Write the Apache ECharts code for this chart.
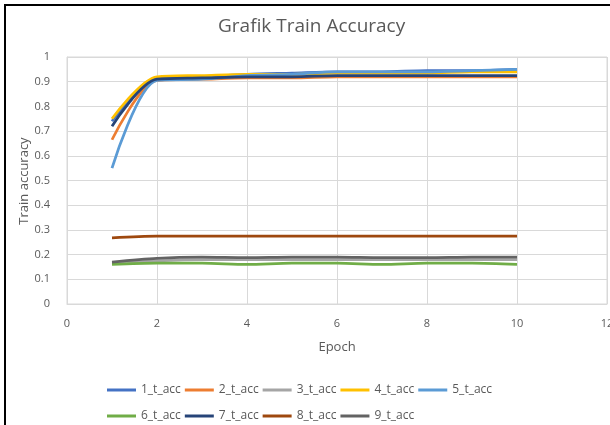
<!DOCTYPE html>
<html>
<head>
<meta charset="utf-8">
<script src="https://cdn.jsdelivr.net/npm/echarts@6/dist/echarts.min.js"></script>
<style>
  html, body { margin: 0; padding: 0; background: #fff; }
  #chart { width: 610px; height: 425px; }
</style>
</head>
<body>
<div id="chart"></div>
<script>
const epochs = [1, 2, 3, 4, 5, 6, 7, 8, 9, 10]
const seriesNames = ['1_t_acc', '2_t_acc', '3_t_acc', '4_t_acc', '5_t_acc', '6_t_acc', '7_t_acc', '8_t_acc', '9_t_acc']
const colors = ['#4472C4', '#ED7D31', '#A5A5A5', '#FFC000', '#5B9BD5', '#70AD47', '#264478', '#9E480E', '#636363']

const acc1 = [0.74, 0.915, 0.92, 0.93, 0.935, 0.94, 0.94, 0.945, 0.945, 0.95]
const acc2 = [0.665, 0.905, 0.91, 0.915, 0.915, 0.92, 0.92, 0.92, 0.92, 0.92]
const acc3 = [0.165, 0.175, 0.18, 0.18, 0.18, 0.18, 0.18, 0.18, 0.18, 0.18]
const acc4 = [0.75, 0.92, 0.925, 0.93, 0.93, 0.935, 0.935, 0.935, 0.94, 0.94]
const acc5 = [0.55, 0.905, 0.91, 0.925, 0.93, 0.94, 0.94, 0.94, 0.945, 0.95]
const acc6 = [0.16, 0.165, 0.165, 0.16, 0.165, 0.165, 0.16, 0.165, 0.165, 0.16]
const acc7 = [0.72, 0.91, 0.915, 0.92, 0.92, 0.925, 0.925, 0.925, 0.925, 0.925]
const acc8 = [0.268, 0.275, 0.275, 0.275, 0.275, 0.275, 0.275, 0.275, 0.275, 0.275]
const acc9 = [0.17, 0.185, 0.19, 0.188, 0.19, 0.19, 0.188, 0.188, 0.19, 0.19]

const allAcc = [acc1, acc2, acc3, acc4, acc5, acc6, acc7, acc8, acc9]

const labelColor = '#595959'
const gridColor = '#d9d9d9'

const series = allAcc.map(function (vals, i) {
    return {
        name: seriesNames[i],
        type: 'line',
        smooth: 0.3,
        symbol: 'none',
        data: epochs.map(function (e, j) { return [e, vals[j]] }),
        lineStyle: { color: colors[i], width: 2.75 },
        itemStyle: { color: colors[i] }
    }
})

function legendFor(names, top) {
    return {
        data: names,
        left: 107,
        top: top,
        orient: 'horizontal',
        icon: 'rect',
        itemWidth: 29,
        itemHeight: 3,
        itemGap: 4,
        padding: 0,
        textStyle: {
            color: labelColor, fontSize: 12, fontFamily: 'Open Sans',
            width: 46, overflow: 'truncate'
        }
    }
}

const chart = echarts.init(document.getElementById('chart'))
chart.setOption({
    animation: false,
    color: colors,
    title: {
        text: 'Grafik Train Accuracy',
        left: 213,
        top: 12,
        textStyle: { color: labelColor, fontSize: 19, fontWeight: 'normal', fontFamily: 'Open Sans' }
    },
    legend: [
        legendFor(seriesNames.slice(0, 5), 384),
        legendFor(seriesNames.slice(5), 410)
    ],
    grid: {
        left: 67, right: 3, top: 57, bottom: 121,
        outerBoundsMode: 'none',
        containLabel: false,
        show: true, borderColor: gridColor, borderWidth: 1
    },
    xAxis: {
        type: 'value',
        min: 0, max: 12, interval: 2,
        name: 'Epoch',
        nameLocation: 'middle',
        nameGap: 37,
        nameTextStyle: { color: labelColor, fontSize: 13, fontFamily: 'Open Sans' },
        axisLine: { show: true, lineStyle: { color: gridColor } },
        axisTick: { show: false },
        axisLabel: { color: labelColor, fontSize: 11, fontFamily: 'Open Sans', margin: 14 },
        splitLine: { show: true, lineStyle: { color: gridColor, width: 1 } }
    },
    yAxis: {
        type: 'value',
        min: 0, max: 1, interval: 0.1,
        axisLine: { show: true, lineStyle: { color: gridColor } },
        axisTick: { show: false },
        axisLabel: { color: labelColor, fontSize: 11, fontFamily: 'Open Sans', margin: 17 },
        splitLine: { show: true, lineStyle: { color: gridColor, width: 1 } }
    },
    graphic: [{
        type: 'rect',
        silent: true,
        shape: { x: 5, y: 5, width: 700, height: 500 },
        style: { fill: 'none', stroke: '#000', lineWidth: 2 }
    }, {
        // y axis title, placed by hand so it sits where the reference has it
        type: 'text',
        silent: true,
        x: 24,
        y: 181,
        rotation: Math.PI / 2,
        style: {
            text: 'Train accuracy',
            fill: labelColor,
            font: '13px "Open Sans"',
            align: 'center',
            verticalAlign: 'middle'
        }
    }],
    series: series
})
</script>
</body>
</html>
